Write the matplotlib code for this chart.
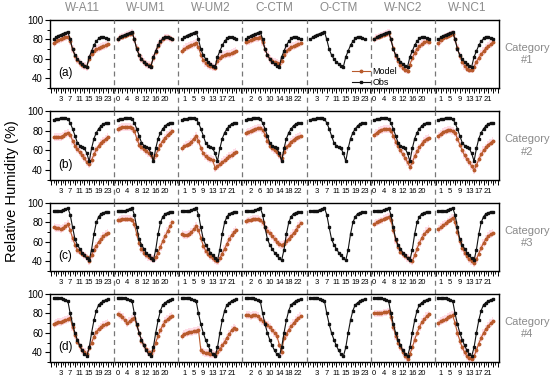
import matplotlib
matplotlib.use('Agg')
import matplotlib.pyplot as plt
from matplotlib.lines import Line2D
import matplotlib.transforms as mtransforms

plt.rcParams['font.family'] = ['Liberation Sans', 'DejaVu Sans']

# ---------------- data ----------------
segments = ['W-A11', 'W-UM1', 'W-UM2', 'C-CTM', 'O-CTM', 'W-NC2', 'W-NC1']
label_start = [3, 0, 1, 2, 3, 0, 1]          # first labelled hour in each segment
hours = list(range(24))
panel_letters = ['(a)', '(b)', '(c)', '(d)']
categories = ['Category\n#1', 'Category\n#2', 'Category\n#3', 'Category\n#4']

# Category #1
obs_a  = [80, 82, 84, 85, 86, 87, 88, 80, 70, 64, 60, 57, 55, 53, 52, 62, 68, 74, 78, 81, 83, 82, 81, 80]
a_WA11 = [76, 78, 79, 80, 81, 82, 83, 78, 70, 63, 59, 56, 54, 53, 52, 60, 65, 68, 70, 71, 72, 73, 74, 75]
a_WUM1 = [80, 82, 83, 84, 85, 86, 87, 80, 71, 64, 60, 57, 55, 54, 53, 61, 67, 73, 77, 80, 82, 82, 81, 80]
a_WUM2 = [68, 70, 72, 73, 74, 75, 76, 72, 64, 59, 56, 54, 53, 52, 51, 58, 61, 63, 64, 65, 65, 66, 67, 68]
a_CCTM = [77, 78, 79, 80, 81, 81, 82, 77, 70, 64, 60, 58, 57, 56, 55, 58, 64, 68, 70, 72, 73, 74, 75, 76]
a_WNC2 = [80, 82, 83, 84, 85, 86, 87, 80, 71, 63, 58, 54, 51, 49, 48, 54, 61, 66, 70, 73, 75, 77, 78, 77]
a_WNC1 = [76, 79, 81, 83, 84, 85, 86, 80, 71, 63, 57, 53, 50, 49, 49, 52, 57, 61, 65, 68, 71, 73, 75, 77]

# Category #2
obs_b  = [91, 92, 92, 93, 93, 93, 92, 88, 82, 75, 68, 65, 63, 62, 57, 49, 62, 72, 78, 82, 85, 87, 88, 88]
b_WA11 = [74, 74, 74, 74, 75, 77, 78, 76, 70, 65, 61, 58, 55, 52, 48, 46, 50, 56, 61, 65, 68, 70, 72, 74]
b_WUM1 = [82, 83, 84, 84, 84, 84, 83, 80, 72, 66, 63, 61, 59, 57, 55, 52, 55, 61, 66, 70, 73, 76, 78, 80]
b_WUM2 = [62, 64, 66, 67, 69, 72, 75, 70, 62, 57, 54, 52, 51, 50, 42, 44, 46, 48, 50, 52, 54, 55, 57, 58]
b_CCTM = [78, 79, 80, 81, 82, 83, 83, 81, 76, 70, 65, 62, 60, 58, 55, 52, 58, 63, 66, 69, 71, 73, 74, 75]
b_WNC2 = [76, 78, 80, 81, 82, 82, 82, 80, 75, 69, 64, 60, 56, 52, 48, 43, 48, 54, 59, 63, 67, 70, 72, 73]
b_WNC1 = [75, 77, 79, 80, 81, 81, 80, 78, 72, 66, 60, 55, 51, 48, 44, 40, 45, 51, 56, 60, 63, 66, 68, 70]

# Category #3
obs_c  = [92, 92, 92, 92, 93, 94, 95, 88, 75, 63, 57, 53, 49, 46, 43, 41, 52, 68, 80, 86, 89, 90, 91, 91]
c_WA11 = [75, 74, 74, 73, 74, 76, 78, 72, 64, 57, 52, 50, 48, 46, 44, 40, 46, 52, 56, 60, 63, 66, 68, 69]
c_WUM1 = [82, 83, 84, 84, 84, 84, 83, 78, 68, 59, 53, 49, 46, 44, 43, 42, 44, 49, 55, 61, 66, 71, 76, 80]
c_WUM2 = [68, 67, 67, 68, 70, 73, 76, 72, 64, 56, 51, 48, 45, 43, 41, 40, 43, 48, 53, 58, 63, 67, 70, 72]
c_CCTM = [81, 82, 83, 84, 84, 84, 83, 80, 75, 71, 69, 66, 63, 60, 58, 57, 58, 61, 63, 66, 69, 72, 76, 79]
c_WNC2 = [78, 80, 81, 82, 84, 85, 86, 82, 72, 62, 55, 50, 47, 45, 43, 41, 40, 46, 53, 59, 64, 68, 71, 73]
c_WNC1 = [73, 75, 77, 79, 81, 83, 85, 80, 70, 61, 54, 49, 45, 42, 40, 38, 42, 48, 54, 59, 63, 66, 68, 69]

# Category #4
obs_d  = [96, 96, 96, 96, 95, 94, 93, 80, 69, 60, 53, 47, 42, 38, 36, 45, 60, 73, 83, 89, 91, 93, 94, 95]
d_WA11 = [69, 70, 71, 71, 72, 73, 74, 75, 66, 58, 51, 46, 42, 40, 38, 44, 50, 56, 61, 64, 66, 68, 69, 70]
d_WUM1 = [79, 78, 76, 73, 70, 72, 74, 75, 68, 60, 52, 47, 43, 40, 38, 42, 50, 57, 63, 68, 72, 74, 76, 77]
d_WUM2 = [57, 59, 60, 61, 61, 62, 62, 63, 42, 40, 39, 39, 38, 38, 37, 40, 43, 47, 51, 55, 59, 63, 65, 64]
d_CCTM = [78, 78, 77, 78, 78, 77, 74, 72, 70, 68, 66, 63, 60, 57, 48, 40, 55, 59, 63, 67, 70, 73, 75, 77]
d_WNC2 = [80, 80, 80, 80, 81, 81, 82, 76, 66, 57, 50, 45, 40, 36, 33, 38, 45, 53, 60, 66, 71, 74, 77, 79]
d_WNC1 = [70, 72, 73, 74, 76, 77, 78, 70, 60, 52, 45, 40, 36, 34, 33, 36, 42, 49, 55, 60, 64, 67, 70, 72]

rows = [
    (obs_a, [a_WA11, a_WUM1, a_WUM2, a_CCTM, None, a_WNC2, a_WNC1]),
    (obs_b, [b_WA11, b_WUM1, b_WUM2, b_CCTM, None, b_WNC2, b_WNC1]),
    (obs_c, [c_WA11, c_WUM1, c_WUM2, c_CCTM, None, c_WNC2, c_WNC1]),
    (obs_d, [d_WA11, d_WUM1, d_WUM2, d_CCTM, None, d_WNC2, d_WNC1]),
]

# ---------------- layout ----------------
W, H = 550, 383
fig = plt.figure(figsize=(W / 100, H / 100), dpi=100)

SEG = 27.0          # x-units per segment
OFF = 1.5           # position of hour 0 inside a segment
NSEG = len(segments)
left_px, right_px = 50, 499
row_px = [(20, 88), (111, 180), (203, 271), (294, 362)]

model_color = '#b85a2c'
band_color = '#ffdde7'
obs_color = '#111111'

# tick positions / labels
label_pos = {}
for k, s in enumerate(label_start):
    for h in range(s, 24, 4):
        label_pos[round(SEG * k + OFF + h, 1)] = str(h)
total = SEG * NSEG
major = [0.5 + 2 * j for j in range(int(total // 2) + 1) if 0.5 + 2 * j < total]
minor = [0.5 + j for j in range(int(total)) if 0.5 + j < total]
major_labels = [label_pos.get(round(p, 1), '') for p in major]

axes = []
for r, (obs, mods) in enumerate(rows):
    top, bot = row_px[r]
    ax = fig.add_axes([left_px / W, 1 - bot / H, (right_px - left_px) / W, (bot - top) / H])
    axes.append(ax)
    for k in range(NSEG):
        xs = [SEG * k + OFF + h for h in hours]
        m = mods[k]
        if m is not None:
            lo = [v - 4 for v in m]
            hi = [v + 4 for v in m]
            ax.fill_between(xs, lo, hi, step='mid', color=band_color, lw=0, zorder=1)
            ax.plot(xs, m, color=model_color, lw=0.8, marker='o', ms=1.8,
                    mec=model_color, mfc=model_color, zorder=3)
        ax.plot(xs, obs, color=obs_color, lw=0.8, marker='s', ms=1.8, zorder=4)
    ax.set_xlim(0, total)
    ax.set_ylim(30, 100)
    ax.set_yticks([40, 60, 80, 100])
    ax.set_yticks([30, 50, 70, 90], minor=True)
    ax.set_xticks(major)
    ax.set_xticklabels(major_labels)
    ax.set_xticks(minor, minor=True)
    ax.tick_params(axis='x', which='major', length=3.5, width=0.7, labelsize=5.5, pad=2)
    ax.tick_params(axis='x', which='minor', length=2, width=0.6)
    ax.tick_params(axis='y', which='major', length=3.5, width=0.8, labelsize=7, pad=1.5)
    ax.tick_params(axis='y', which='minor', length=2, width=0.7)
    for sp in ax.spines.values():
        sp.set_linewidth(1.0)
    ax.text(0.018, 0.13, panel_letters[r], transform=ax.transAxes, fontsize=8.5,
            ha='left', va='bottom')
    # dashed separators, extended down into the gap below
    h_ax = bot - top
    ext = 0.0
    if r < 3:
        ext = (row_px[r + 1][0] - bot) / h_ax
    trans = mtransforms.blended_transform_factory(ax.transData, ax.transAxes)
    for k in range(1, NSEG):
        ax.plot([SEG * k, SEG * k], [-ext, 1], transform=trans, clip_on=False,
                color='#777777', lw=0.9, ls=(0, (4, 3)), zorder=5)
    # category label
    yc = 1 - (top + bot) / 2 / H
    fig.text(527 / W, yc, categories[r], ha='center', va='center', fontsize=8,
             color='#8a8a8a', linespacing=1.3)

# column titles
seg_px = (right_px - left_px) / NSEG
for k, name in enumerate(segments):
    fig.text((left_px + seg_px * (k + 0.5)) / W, 1 - 8 / H, name, ha='center',
             va='center', fontsize=8.5, color='#8a8a8a')

fig.text(12 / W, 0.5, 'Relative Humidity (%)', rotation=90, ha='center',
         va='center', fontsize=10.5)

handles = [Line2D([], [], color=model_color, lw=0.8, marker='o', ms=1.8),
           Line2D([], [], color=obs_color, lw=0.8, marker='s', ms=1.8)]
fig.legend(handles, ['Model', 'Obs'], loc='lower left',
           bbox_to_anchor=(347 / W, 1 - 92 / H), frameon=False, fontsize=6.5,
           handlelength=2.0, handletextpad=0.3, labelspacing=0.25, borderpad=0)

fig.savefig('out.png', dpi=100)
